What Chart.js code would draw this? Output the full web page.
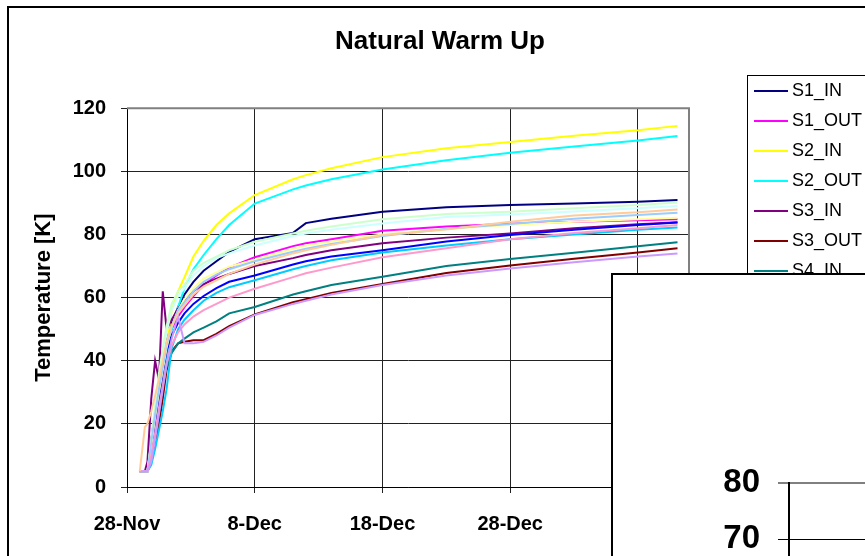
<!DOCTYPE html>
<html>
<head>
<meta charset="utf-8">
<title>Natural Warm Up</title>
<script src="https://cdn.jsdelivr.net/npm/chart.js@4.4.1/dist/chart.umd.min.js"></script>
<style>
  html, body { margin: 0; padding: 0; background: #fff; overflow: hidden; }
  #wrap { position: relative; width: 865px; height: 556px; overflow: hidden; }
  #main { position: absolute; left: 0; top: 0; }
  #inset { position: absolute; left: 611px; top: 273px; width: 300px; height: 480px; border: 2px solid #000; background: #fff; }
  #insetCanvas { display: block; }
</style>
</head>
<body>
<div id="wrap">
  <canvas id="main" width="865" height="556"></canvas>
  <div id="inset"><canvas id="insetCanvas" width="260" height="470"></canvas></div>
</div>
<script>
// x values are days after 28-Nov
var days = [1.0, 1.4, 1.6, 1.9, 2.2, 2.5, 2.8, 3.1, 3.5, 4.0, 4.5, 5.2, 6.0, 7.0, 8.0, 10, 13, 14, 16, 20, 25, 30, 35, 40, 43.1];
var tickDays = [0, 10, 20, 30, 40];
var tickLabels = ['28-Nov', '8-Dec', '18-Dec', '28-Dec', '7-Jan'];

var seriesNames = ['S1_IN', 'S1_OUT', 'S2_IN', 'S2_OUT', 'S3_IN', 'S3_OUT', 'S4_IN', 'S4_OUT',
                   'S5_IN', 'S5_OUT', 'S6_IN', 'S6_OUT', 'S7_IN', 'S7_OUT', 'S8_IN', 'S8_OUT'];
var seriesColors = ['#000080', '#FF00FF', '#FFFF00', '#00FFFF', '#800080', '#800000', '#008080', '#0000FF',
                    '#00CCFF', '#CCFFFF', '#CCFFCC', '#FFFF99', '#99CCFF', '#FF99CC', '#CC99FF', '#FFCC99'];

var s1In  = [5, 5, 5, 15, 24, 33, 40, 46, 52, 57, 61, 65, 68.5, 71.5, 74.5, 78.5, 80.5, 83.6, 85, 87.2, 88.6, 89.3, 89.8, 90.4, 90.9];
var s1Out = [5, 5, 5, 14, 23, 31, 38, 44, 50, 54, 57, 60.5, 64, 67, 69.5, 72.8, 76.3, 77.2, 78.5, 81.2, 82.5, 83.4, 84, 84.5, 84.8];
var s2In  = [5, 5, 5, 10, 18, 26, 33, 44, 56, 62, 66.5, 73, 78, 83, 86.7, 92.5, 97.5, 98.8, 101, 104.5, 107.3, 109.3, 111.3, 113, 114.4];
var s2Out = [5, 5, 5, 8, 14, 22, 30, 40, 50, 57, 63, 69, 73.5, 78.5, 83, 89.8, 94.3, 95.5, 97.5, 100.6, 103.5, 105.9, 107.9, 109.8, 111.2];
var s3In  = [5, 5, 8, 28, 40, 34, 62, 50, 53, 56.5, 59, 62, 64.3, 66, 67.5, 70, 72.5, 73.5, 75, 77.2, 79, 80.3, 82, 83.2, 83.9];
var s3Out = [5, 5, 5, 8, 13, 20, 28, 37, 43, 45.5, 46, 46.5, 46.5, 48.5, 51, 54.7, 58.5, 59.5, 61.5, 64.3, 67.8, 70.2, 72.3, 74.3, 75.6];
var s4In  = [5, 5, 5, 10, 17, 25, 32, 38, 42.5, 45.5, 47, 49, 50.5, 52.5, 55, 57, 61, 62, 64, 66.6, 70, 72.2, 74.2, 76.3, 77.5];
var s4Out = [5, 5, 5, 12, 20, 28, 36, 43, 48, 52, 55, 58, 60.5, 63, 65, 67, 70.5, 71.5, 73, 75, 77.8, 79.8, 81.5, 83, 83.8];
var s5In  = [5, 5, 5, 7, 12, 18, 24, 31, 44, 50, 53, 56, 59, 61.5, 63.3, 65.5, 69, 70, 71.8, 74.3, 76.5, 78.5, 80, 81.5, 82.2];
var s5Out = [5, 5, 5, 14, 24, 34, 42, 49, 56, 60.5, 63, 67, 70, 72.5, 74, 76.5, 79.5, 80.3, 81.5, 83.5, 85.5, 86.3, 87.3, 88.3, 89];
var s6In  = [5, 5, 5, 15, 26, 36, 44, 51, 58, 62, 64, 68.5, 71, 73, 75, 77.7, 80.3, 81.2, 82.5, 84.8, 86.5, 87.2, 88.3, 89.3, 90.1];
var s6Out = [5, 5, 5, 13, 22, 30, 37, 44, 51, 56, 59.5, 63, 66, 68, 69.8, 72, 75.5, 76.5, 77.8, 80, 81.8, 83, 84, 84.8, 85.3];
var s7In  = [5, 5, 5, 14, 23, 31, 38, 45, 51, 56, 58.5, 62, 65, 67.3, 69, 71.5, 74.5, 75.5, 77, 79.5, 81.8, 83.3, 85, 86.2, 86.9];
var s7Out = [5, 5, 5, 10, 17, 25, 32, 39, 45, 49, 51.5, 54, 56, 58, 60, 62.8, 66.5, 67.7, 69.5, 72.8, 75.6, 78.5, 80.5, 82, 83];
var s8In  = [5, 5, 5, 8, 15, 23, 31, 39, 47, 54, 45.5, 45.5, 46, 48, 50.5, 54.5, 58, 59, 61, 64, 67, 69.2, 71.2, 73, 74];
var s8Out = [5, 19, 20, 24, 29, 34, 40, 46, 51, 55, 57.5, 61, 63.5, 65.5, 67.5, 70.5, 74, 75, 76.7, 79.8, 81.6, 84, 86, 87, 87.9];

var seriesValues = [s1In, s1Out, s2In, s2Out, s3In, s3Out, s4In, s4Out,
                    s5In, s5Out, s6In, s6Out, s7In, s7Out, s8In, s8Out];

// second (overlapping) chart, only its top two ticks show
var insetTicks = [40, 50, 60, 70, 80];

var FONT = '"Liberation Sans", Arial, sans-serif';
Chart.defaults.font.family = FONT;
Chart.defaults.color = '#000';

// Excel-like plot border, outer frame and legend box
var excelFrame = {
  id: 'excelFrame',
  beforeDatasetsDraw: function (chart) {
    var a = chart.chartArea, ctx = chart.ctx;
    ctx.save();
    ctx.strokeStyle = '#808080';
    ctx.lineWidth = 2;
    ctx.beginPath();
    ctx.moveTo(a.left, a.top);
    ctx.lineTo(a.right, a.top);
    ctx.lineTo(a.right, a.bottom);
    ctx.stroke();
    ctx.restore();
  },
  afterDraw: function (chart) {
    var ctx = chart.ctx;
    ctx.save();
    ctx.strokeStyle = '#000';
    ctx.lineWidth = 2;
    ctx.strokeRect(8, 7, 1000, 1000);

    ctx.lineWidth = 1;
    ctx.fillStyle = '#fff';
    ctx.fillRect(747, 75, 200, 420);
    ctx.strokeRect(747.5, 75.5, 200, 420);
    ctx.font = '18px ' + FONT;
    ctx.textBaseline = 'middle';
    chart.data.datasets.forEach(function (ds, i) {
      var y = 91 + i * 30;
      ctx.strokeStyle = ds.borderColor;
      ctx.lineWidth = 2;
      ctx.beginPath();
      ctx.moveTo(754, y);
      ctx.lineTo(788, y);
      ctx.stroke();
      ctx.fillStyle = '#000';
      ctx.fillText(ds.label, 792, y);
    });
    ctx.restore();
  }
};

var datasets = seriesNames.map(function (name, i) {
  return {
    label: name,
    data: days.map(function (d, j) { return { x: d, y: seriesValues[i][j] }; }),
    borderColor: seriesColors[i],
    backgroundColor: seriesColors[i],
    borderWidth: 2,
    pointRadius: 0,
    tension: 0,
    fill: false,
    order: seriesNames.length - i
  };
});

new Chart(document.getElementById('main'), {
  type: 'line',
  data: { datasets: datasets },
  options: {
    responsive: false,
    animation: false,
    layout: { padding: { left: 15, right: 0, top: 0, bottom: 0 } },
    plugins: {
      legend: { display: false },
      tooltip: { enabled: false },
      title: {
        display: true,
        text: 'Natural Warm Up',
        color: '#000',
        font: { size: 26, weight: 'bold' },
        padding: { top: 26, bottom: 51 }
      }
    },
    scales: {
      x: {
        type: 'linear',
        min: 0,
        max: 44,
        afterBuildTicks: function (s) { s.ticks = tickDays.map(function (v) { return { value: v }; }); },
        afterFit: function (s) { s.height = 69; },
        ticks: {
          color: '#000',
          font: { size: 20, weight: 'bold' },
          padding: 19,
          maxRotation: 0,
          autoSkip: false,
          callback: function (v, i) { return tickLabels[i]; }
        },
        grid: { color: '#222', lineWidth: 1, tickLength: 6 },
        border: { color: '#000', width: 1 }
      },
      y: {
        min: 0,
        max: 120,
        afterFit: function (s) { s.width = 112; },
        ticks: { stepSize: 20, color: '#000', font: { size: 20, weight: 'bold' }, padding: 15 },
        grid: { color: '#222', lineWidth: 1, tickLength: 6 },
        border: { color: '#000', width: 1 },
        title: {
          display: true,
          text: 'Temperature [K]',
          color: '#000',
          font: { size: 22, weight: 'bold' },
          padding: { top: 16, bottom: 0 }
        }
      },
      yRight: {
        position: 'right',
        display: true,
        grid: { display: false, drawTicks: false },
        ticks: { display: false },
        border: { display: false },
        afterFit: function (s) { s.width = 176; }
      }
    }
  },
  plugins: [excelFrame]
});

new Chart(document.getElementById('insetCanvas'), {
  type: 'line',
  data: { datasets: [] },
  options: {
    responsive: false,
    animation: false,
    layout: { padding: { top: 208, bottom: 10, left: 0, right: 0 } },
    plugins: { legend: { display: false }, tooltip: { enabled: false } },
    scales: {
      x: { type: 'linear', display: false },
      y: {
        min: insetTicks[0],
        max: insetTicks[insetTicks.length - 1],
        afterBuildTicks: function (s) { s.ticks = insetTicks.map(function (v) { return { value: v }; }); },
        afterFit: function (s) { s.width = 176; },
        ticks: { color: '#000', font: { size: 33, weight: 'bold' }, padding: 18 },
        grid: {
          color: function (c) { return c.tick && c.tick.value === insetTicks[insetTicks.length - 1] ? '#808080' : '#000'; },
          lineWidth: function (c) { return c.tick && c.tick.value === insetTicks[insetTicks.length - 1] ? 2 : 1; },
          tickLength: 11
        },
        border: { color: '#000', width: 2 }
      }
    }
  }
});
</script>
</body>
</html>
